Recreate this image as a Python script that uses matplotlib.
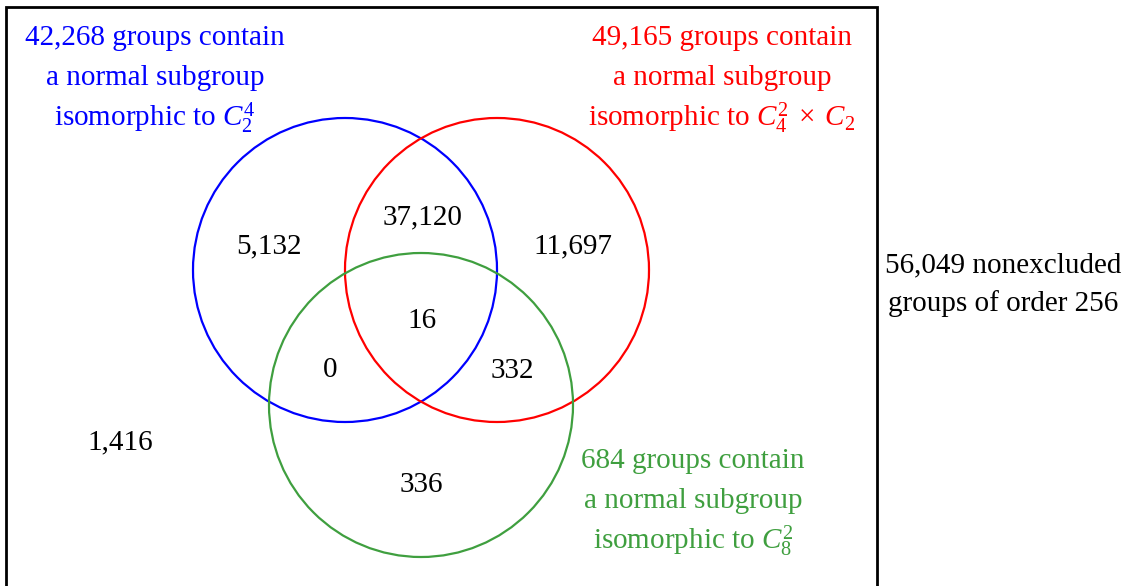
"""Venn diagram of groups of order 256 by normal subgroup type."""

import matplotlib.pyplot as plt
from matplotlib.patches import Circle

plt.rcParams["font.family"] = ["Liberation Serif", "DejaVu Serif"]
plt.rcParams["mathtext.fontset"] = "custom"
plt.rcParams["mathtext.rm"] = "Liberation Serif"
plt.rcParams["mathtext.it"] = "Liberation Serif:italic"

# region counts
region_labels = ["5,132", "37,120", "11,697", "16", "0", "332", "336", "1,416"]
region_xy = [(269, 246), (422, 217), (573, 246), (422, 321),
             (330, 370), (512, 371), (421, 485), (120, 442)]

# sets
set_colors = ["#0000ff", "#ff0000", "#3f9f3f"]
set_centers = [(345, 270), (497, 270), (421, 405)]
set_radius = 152
set_captions = [
    ["42,268 groups contain", "a normal subgroup", r"isomorphic to $C_2^4$"],
    ["49,165 groups contain", "a normal subgroup", r"isomorphic to $C_4^2\;\times\;C_2$"],
    ["684 groups contain", "a normal subgroup", r"isomorphic to $C_8^2$"],
]
caption_xy = [(155, 38), (722, 38), (693, 461)]
line_gap = 40

total_caption = ["56,049 nonexcluded", "groups of order 256"]

fig = plt.figure(figsize=(11.33, 5.86), dpi=100)
ax = fig.add_axes([0, 0, 1, 1])
ax.set_xlim(0, 1133)
ax.set_ylim(586, 0)
ax.set_aspect("equal")
ax.axis("off")

# universe box (open at the bottom)
ax.plot([6, 6, 877, 877], [600, 7, 7, 600], color="black", lw=2, solid_joinstyle="miter")

for center, color in zip(set_centers, set_colors):
    ax.add_patch(Circle(center, set_radius, fill=False, edgecolor=color, lw=1.6))

fs = 21
for text, (x, y) in zip(region_labels, region_xy):
    ax.text(x, y, text, ha="center", va="center", fontsize=fs)

for lines, (x, y0), color in zip(set_captions, caption_xy, set_colors):
    for i, line in enumerate(lines):
        ax.text(x, y0 + i * line_gap, line, ha="center", va="center",
                fontsize=fs, color=color)

for i, line in enumerate(total_caption):
    ax.text(1003, 265 + i * 39, line, ha="center", va="center", fontsize=fs)

fig.savefig("out.png", dpi=100)
